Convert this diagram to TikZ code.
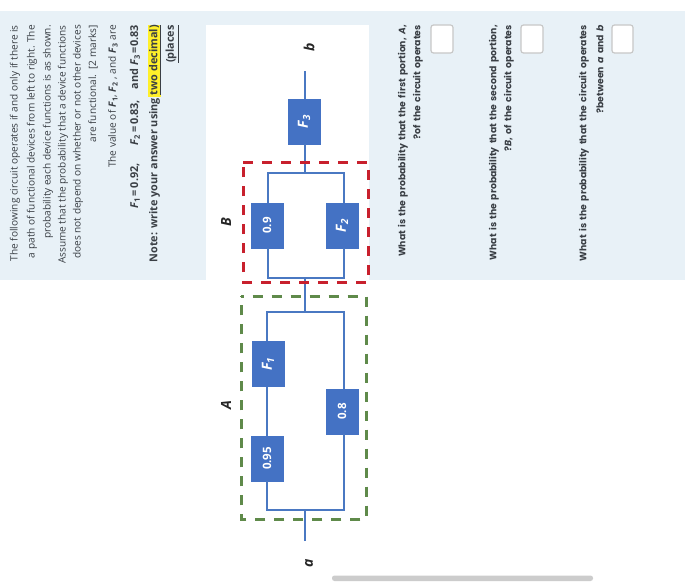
\documentclass[tikz,border=0pt]{standalone}
\usepackage{fontspec}
\setmainfont{Open Sans}
\newfontfamily\qfont[WordSpace=1.7]{Poppins}
\definecolor{panel}{HTML}{E8F1F7}
\definecolor{blk}{HTML}{4472C4}
\definecolor{wire}{HTML}{4A78C2}
\definecolor{redd}{HTML}{C8202D}
\definecolor{grn}{HTML}{5F8A4A}
\definecolor{txt}{HTML}{3A3F45}
\definecolor{hl}{HTML}{FFF02A}
\tikzset{
 bodyline/.style={rotate=90,anchor=east,inner sep=0pt,text=txt,font=\fontsize{10.1}{12}\selectfont},
 boldline/.style={rotate=90,anchor=east,inner sep=0pt,text=txt,font=\fontsize{10.85}{12}\selectfont\bfseries},
 qline/.style={rotate=90,anchor=east,inner sep=0pt,text=txt,font=\qfont\fontsize{9.3}{12}\selectfont\bfseries},
 block/.style={rectangle,fill=blk,draw=blk,minimum width=32pt,minimum height=45pt,inner sep=0pt},
 wireline/.style={draw=wire,line width=2pt},
 answerbox/.style={draw=black!22,fill=white,rounded corners=2.5pt,line width=1.2pt},
 reddash/.style={draw=redd,line width=3pt,dash pattern=on 10pt off 9pt},
 grndash/.style={draw=grn,line width=3pt,dash pattern=on 10pt off 9pt,dash phase=7.3pt},
 termlabel/.style={rotate=90,font=\fontsize{14}{15}\selectfont\bfseries\itshape,text=black!85,inner sep=0pt}
}
\newcommand{\Fsub}[1]{\textbf{\textit{F}\textsubscript{#1}}}
\newcommand{\blockat}[4]{\node[block] (#1) at (#2,#3) {\rotatebox{90}{\textcolor{white}{\bfseries #4}}};}
\begin{document}
\begin{tikzpicture}[x=1pt,y=-1pt]
\useasboundingbox (0,0) rectangle (700,586);
\fill[white] (0,0) rectangle (700,586);
\fill[panel] (0,11) rectangle (685,280);
\fill[white] (206,25) rectangle (369,282);
% left text
\fill[hl] (148,25) rectangle (161,97);
\node[bodyline] (l1) at (15,25) {The following circuit operates if and only if there is};
\node[bodyline] (l2) at (32,25) {a path of functional devices from left to right. The};
\node[bodyline] (l3) at (48,25) {probability each device functions is as shown.};
\node[bodyline] (l4) at (63,25) {Assume that the probability that a device functions};
\node[bodyline] (l5) at (78,25) {does not depend on whether or not other devices};
\node[bodyline] (l6) at (93,25) {are functional. \,[2 marks]};
\node[bodyline] (l7) at (113,25) {The value of \Fsub{1}, \Fsub{2} , and \Fsub{3} are};
\node[boldline] (l8) at (135,25) {\Fsub{1}\,=\,0.92,\hspace{1.6em}\Fsub{2}\,=\,0.83,\hspace{1em}and \Fsub{3}\,=0.83};
\node[boldline] (l9) at (155,25) {Note: write your answer using \underline{two decimal)}};
\node[boldline] (l10) at (172,25) {\underline{(places}};
% wires
\coordinate (a) at (305,541);
\coordinate (b) at (305,71);
\coordinate (Abot) at (305,510);
\coordinate (AbotL) at (267,510);
\coordinate (AbotR) at (344,510);
\coordinate (Atop) at (305,312);
\coordinate (AtopL) at (267,312);
\coordinate (AtopR) at (344,312);
\coordinate (Bbot) at (305,278);
\coordinate (BbotL) at (268,278);
\coordinate (BbotR) at (344,278);
\coordinate (Btop) at (305,173);
\coordinate (BtopL) at (268,173);
\coordinate (BtopR) at (344,173);
\blockat{f95}{267}{458.5}{\fontsize{11.5}{12}\selectfont 0.95}
\blockat{f1}{268}{364}{\fontsize{14}{15}\selectfont\itshape F\textsubscript{1}}
\blockat{f08}{342}{411.5}{\fontsize{11.5}{12}\selectfont 0.8}
\blockat{f09}{267}{225.5}{\fontsize{11.5}{12}\selectfont 0.9}
\blockat{f2}{342}{225.5}{\fontsize{14}{15}\selectfont\itshape F\textsubscript{2}}
\blockat{f3}{304}{121.5}{\fontsize{14}{15}\selectfont\itshape F\textsubscript{3}}
\draw[wireline] (a) -- (Abot);
\draw[wireline] (f95.south -| AbotL) -- (AbotL) -- (AbotR) -- (f08.south -| AbotR);
\draw[wireline] (f95.north -| AbotL) -- (f1.south -| AbotL);
\draw[wireline] (f1.north -| AtopL) -- (AtopL) -- (AtopR) -- (f08.north -| AtopR);
\draw[wireline] (Atop) -- (Bbot);
\draw[wireline] (f09.south -| BbotL) -- (BbotL) -- (BbotR) -- (f2.south -| BbotR);
\draw[wireline] (f09.north -| BtopL) -- (BtopL) -- (BtopR) -- (f2.north -| BtopR);
\draw[wireline] (Btop) -- (f3.south -| Btop);
\draw[wireline] (f3.north -| b) -- (b);
% dashed regions
\draw[reddash] (243,162) -- (368,162) -- (368,282) -- (243,282) -- cycle;
\draw[grndash] (241,296) -- (366,296) -- (366,519) -- (241,519) -- cycle;
% labels
\node[termlabel] (lA) at (226,405) {A};
\node[termlabel] (lB) at (226,222) {B};
\node[termlabel] (la) at (309,563) {a};
\node[termlabel] (lb) at (309,47) {b};
% questions
\node[qline] (q1a) at (403,25) {What is the probability that the first portion, \textit{A},};
\node[qline] (q1b) at (418,25) {?of the circuit operates};
\draw[answerbox] (431,25) rectangle (453,53);
\node[qline] (q2a) at (494,25) {What is the probability that the second portion,};
\node[qline] (q2b) at (509,25) {?\textit{B}, of the circuit operates};
\draw[answerbox] (521,25) rectangle (543,53);
\node[qline] (q3a) at (584,25) {What is the probability that the circuit operates};
\node[qline] (q3b) at (600,25) {?between \textit{a} and \textit{b}};
\draw[answerbox] (612,25) rectangle (633,53);
% scrollbar
\fill[black!20,rounded corners=2.5pt] (332,575.5) rectangle (593,581);
\end{tikzpicture}
\end{document}
